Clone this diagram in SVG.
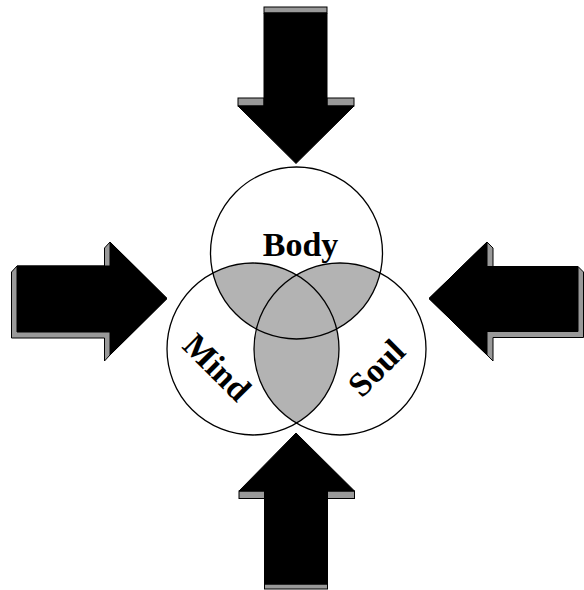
<svg xmlns="http://www.w3.org/2000/svg" width="584" height="590" viewBox="0 0 584 590">
<style>
.face{fill:#000;stroke:#000;stroke-width:1;stroke-linejoin:miter}
.bevel{fill:#999;stroke:#000;stroke-width:1}
.ring{fill:none;stroke:#000;stroke-width:1.3}
.lens{fill:#b3b3b3}
.lbl{font-family:"Liberation Serif","Times New Roman",serif;font-weight:bold;font-size:34px;fill:#000;text-anchor:middle}
</style>
<defs>
<clipPath id="clipBody"><circle cx="296.5" cy="253" r="86"/></clipPath>
<clipPath id="clipMind"><circle cx="253" cy="349" r="86"/></clipPath>
</defs>
<rect width="584" height="590" fill="#fff"/>
<g id="shading">
<circle class="lens" cx="253" cy="349" r="86" clip-path="url(#clipBody)"/>
<circle class="lens" cx="340" cy="349" r="86" clip-path="url(#clipBody)"/>
<circle class="lens" cx="340" cy="349" r="86" clip-path="url(#clipMind)"/>
</g>
<g id="body">
<circle class="ring" cx="296.5" cy="253" r="86"/>
<text class="lbl" x="300.5" y="256">Body</text>
</g>
<g id="mind">
<circle class="ring" cx="253" cy="349" r="86"/>
<text class="lbl" transform="translate(209,375.3) rotate(45)">Mind</text>
</g>
<g id="soul">
<circle class="ring" cx="340" cy="349" r="86"/>
<text class="lbl" transform="translate(384.5,376) rotate(-45)">Soul</text>
</g>
<g id="connectors">
<g id="arrow-top">
<rect class="bevel" x="264" y="7" width="63" height="6"/>
<rect class="bevel" x="238" y="98" width="26" height="8"/>
<rect class="bevel" x="327" y="98" width="27" height="8"/>
<polygon class="face" points="264,13 327,13 327,106 354,106 296,163.5 238,106 264,106"/>
</g>
<g id="arrow-bottom">
<rect class="bevel" x="239" y="491" width="25.5" height="7.5"/>
<rect class="bevel" x="327.5" y="491" width="27" height="7.5"/>
<rect class="bevel" x="264.5" y="584" width="63" height="5"/>
<polygon class="face" points="296,433 354.5,491 327.5,491 327.5,584 264.5,584 264.5,491 239,491"/>
</g>
<g id="arrow-left">
<polygon class="bevel" points="11.5,272 17,266 104.5,266 104.5,248 110,242 167,298.5 110,355 104.5,361 104.5,338 11.5,338"/>
<polygon class="face" points="17,266 110,266 110,242 167,298.5 110,355 110,332 17,332"/>
</g>
<g id="arrow-right">
<polygon class="bevel" points="429,298.5 487,242 493,248 493,266.5 578,266.5 583.5,272 583.5,337.5 493,337.5 493,361 487,355"/>
<polygon class="face" points="429,298.5 487,242 487,266.5 578,266.5 578,331.5 487,331.5 487,355"/>
</g>
</g>
</svg>
